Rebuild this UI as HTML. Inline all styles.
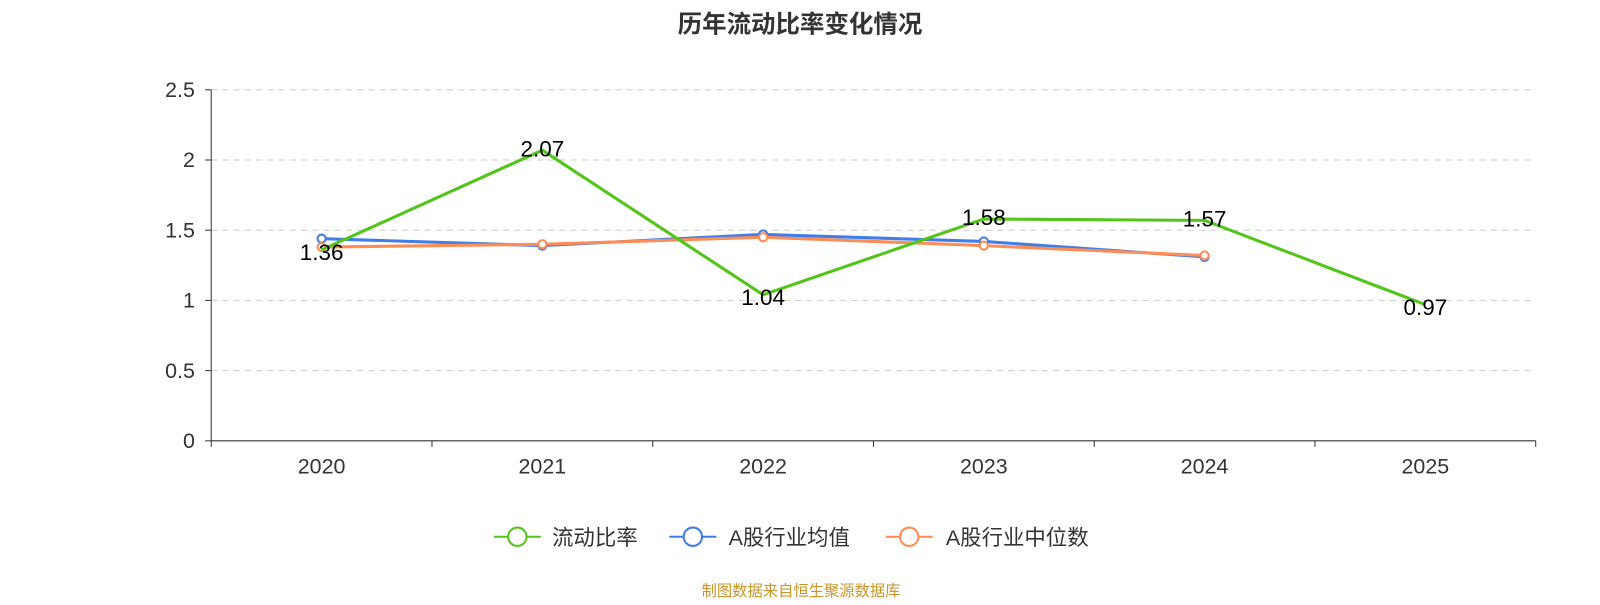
<!DOCTYPE html>
<html><head><meta charset="utf-8"><style>
body{margin:0;background:#fff;}
svg text{font-family:"Liberation Sans","Noto Sans CJK SC",sans-serif;}
</style></head><body>
<svg id="c" width="1600" height="600" viewBox="0 0 1568 588">
<text x="784" y="32" text-anchor="middle" font-size="24" font-weight="bold" fill="#333">历年流动比率变化情况</text>
<g id="grid"></g><g id="axes"></g><g id="series"></g><g id="labels"></g>
<g>
<g>
<line x1="484" y1="526" x2="530" y2="526" stroke="#52c41a" stroke-width="2"/><circle cx="507" cy="526" r="9" fill="#fff" stroke="#52c41a" stroke-width="2"/>
<text x="541" y="534" font-size="21" fill="#333">流动比率</text></g>
<g>
<line x1="656" y1="526" x2="702" y2="526" stroke="#3f7ee8" stroke-width="2"/><circle cx="679" cy="526" r="9" fill="#fff" stroke="#3f7ee8" stroke-width="2"/>
<text x="714" y="534" font-size="21" fill="#333">A股行业均值</text></g>
<g>
<line x1="868" y1="526" x2="914" y2="526" stroke="#ff8c55" stroke-width="2"/><circle cx="891" cy="526" r="9" fill="#fff" stroke="#ff8c55" stroke-width="2"/>
<text x="927" y="534" font-size="21" fill="#333">A股行业中位数</text></g>
</g>
<text x="785" y="584" text-anchor="middle" font-size="15" fill="#c8962a">制图数据来自恒生聚源数据库</text>
</svg>
<script>
const categories=["2020","2021","2022","2023","2024","2025"];
const ratioValues=[1.36,2.07,1.04,1.58,1.57,0.97];
const meanValues=[1.44,1.39,1.47,1.42,1.31];
const medianValues=[1.38,1.40,1.45,1.39,1.32];
const yTicks=[0,0.5,1,1.5,2,2.5];
const NS="http://www.w3.org/2000/svg";
const x0=207,x1=1505,yb=432,yt=88,ymax=2.5;
const bw=(x1-x0)/categories.length;
const xs=i=>x0+bw*(i+0.5);
const ys=v=>yb-(v/ymax)*(yb-yt);
function mk(tag,at,parent){const e=document.createElementNS(NS,tag);for(const k in at)e.setAttribute(k,at[k]);document.getElementById(parent).appendChild(e);return e;}
yTicks.forEach(t=>{const y=ys(t);
 if(t>0){const g=mk('line',{x1:x0,x2:x1,y1:y,y2:y,stroke:'#ccc','stroke-dasharray':'6,5'},'grid');
 
 }
 const tk=mk('line',{x1:x0-6,x2:x0,y1:y,y2:y,stroke:'#333'},'axes');
 
 
 const tx=mk('text',{x:x0-16,y:y+7,'text-anchor':'end','font-size':21,fill:'#333'},'axes');tx.textContent=String(t);
 
 
});
const ya=mk('line',{x1:x0,x2:x0,y1:yt,y2:yb,stroke:'#333'},'axes');


const xa=mk('line',{x1:x0,x2:x1,y1:yb,y2:yb,stroke:'#333'},'axes');


for(let i=0;i<=categories.length;i++){const t=mk('line',{x1:x0+bw*i,x2:x0+bw*i,y1:yb,y2:yb+6,stroke:'#333'},'axes');
 
 }
categories.forEach((c,i)=>{const t=mk('text',{x:xs(i),y:464,'text-anchor':'middle','font-size':21,fill:'#333'},'axes');t.textContent=c;
 
 });
function series(vals,color,name,markers){
 const p=mk('polyline',{points:vals.map((v,i)=>xs(i)+','+ys(v)).join(' '),fill:'none',stroke:color,'stroke-width':3},'series');
 
 
 if(markers)vals.forEach((v,i)=>{const m=mk('circle',{cx:xs(i),cy:ys(v),r:4,fill:'#fff',stroke:color,'stroke-width':2},'series');
  
  });
}
series(meanValues,'#3f7ee8','industry-mean',true);
series(medianValues,'#ff8c55','industry-median',true);
series(ratioValues,'#52c41a','current-ratio',false);
ratioValues.forEach((v,i)=>{const t=mk('text',{x:xs(i),y:(i===0||i===2||i===5)? ys(v)+10 : ys(v)+6,'text-anchor':'middle','font-size':22,fill:'#000'},'labels');
 t.textContent=v.toFixed(2);
 
 });
</script>
</body></html>
